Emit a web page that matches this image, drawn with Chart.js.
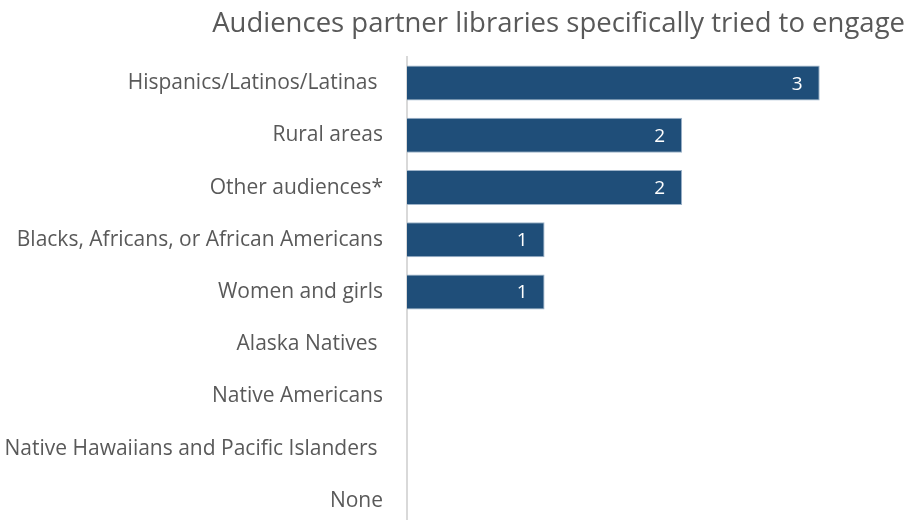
<!DOCTYPE html>
<html>
<head>
<meta charset="utf-8">
<title>Audiences partner libraries specifically tried to engage</title>
<script src="https://cdn.jsdelivr.net/npm/chart.js@4/dist/chart.umd.min.js"></script>
<style>
  html, body { margin: 0; padding: 0; background: #fff; overflow: hidden; }
  canvas { display: block; }
</style>
</head>
<body>
<canvas id="audChart" width="913" height="527"></canvas>
<script>
// Audience groups and how many partner libraries targeted each
const categories = [
    'Hispanics/Latinos/Latinas ',
    'Rural areas',
    'Other audiences*',
    'Blacks, Africans, or African Americans',
    'Women and girls',
    'Alaska Natives ',
    'Native Americans',
    'Native Hawaiians and Pacific Islanders ',
    'None'
];
const libraryCounts = [3, 2, 2, 1, 1, 0, 0, 0, 0];

const FONT = '"Open Sans", Lato, sans-serif';
const TEXT_GRAY = '#595959';

// Writes the count inside the right end of each bar
const barValueLabels = {
    id: 'barValueLabels',
    afterDatasetsDraw(chart) {
        const ctx = chart.ctx;
        const meta = chart.getDatasetMeta(0);
        ctx.save();
        ctx.font = '19px ' + FONT;
        ctx.fillStyle = '#ffffff';
        ctx.textAlign = 'right';
        ctx.textBaseline = 'middle';
        meta.data.forEach((bar, i) => {
            const v = chart.data.datasets[0].data[i];
            if (!v) return;
            ctx.fillText(String(v), bar.x - 17, bar.y + 1);
        });
        ctx.restore();
    }
};

new Chart(document.getElementById('audChart').getContext('2d'), {
    type: 'bar',
    data: {
        labels: categories,
        datasets: [{
            data: libraryCounts,
            backgroundColor: '#1f4e79',
            borderColor: '#9db3c9',
            borderWidth: 1,
            borderSkipped: 'left',
            categoryPercentage: 1.0,
            barPercentage: 0.67
        }]
    },
    options: {
        indexAxis: 'y',
        responsive: false,
        animation: false,
        layout: {
            autoPadding: false,
            padding: { left: 0, right: 8, top: 0, bottom: 0 }
        },
        plugins: {
            legend: { display: false },
            tooltip: { enabled: false },
            title: {
                display: true,
                text: 'Audiences partner libraries specifically tried to engage',
                align: 'end',
                color: TEXT_GRAY,
                font: { family: FONT, size: 27.5, weight: 'normal' },
                padding: { top: 8, bottom: 16 }
            }
        },
        scales: {
            x: {
                display: false,
                min: 0,
                max: 3.62
            },
            y: {
                grid: { display: false, drawTicks: false },
                border: { display: true, color: '#d9d9d9', width: 2 },
                ticks: {
                    color: TEXT_GRAY,
                    font: { family: FONT, size: 21 },
                    padding: 24
                },
                afterFit(scale) {
                    // fixed label column; the tick padding should not eat into the plot height
                    scale.width = 407;
                    scale.paddingTop = 0;
                    scale.paddingBottom = 0;
                }
            }
        }
    },
    plugins: [barValueLabels]
});
</script>
</body>
</html>
